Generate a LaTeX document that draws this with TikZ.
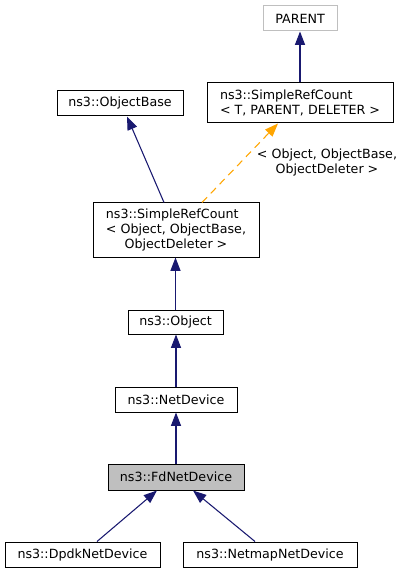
\documentclass[tikz,border=0pt]{standalone}
\usepackage{fontspec}
\setmainfont{DejaVu Sans}
\usepackage{calc}
\usetikzlibrary{arrows.meta,calc}
\definecolor{edgeblue}{HTML}{191970}
\definecolor{orangeedge}{HTML}{FFA500}
\tikzset{
  cls/.style={draw=black, line width=0.75pt, rectangle, inner sep=0pt, align=center,
    font=\fontsize{9.5pt}{11.25pt}\selectfont},
  ghost/.style={cls, draw={rgb,255:red,191;green,191;blue,191}},
  inherit/.style={draw=edgeblue, line width=0.8pt, -{Triangle[length=10pt,width=7.5pt]}},
  tmpl/.style={draw=orangeedge, line width=0.8pt, dash pattern=on 5.5pt off 4pt, -{Triangle[length=10pt,width=7.5pt,fill=orangeedge]}},
  lbl/.style={align=center, inner sep=0pt, font=\fontsize{9.5pt}{11.25pt}\selectfont}
}
\begin{document}
\begin{tikzpicture}[x=0.75pt, y=-0.75pt]
\useasboundingbox (0,0) rectangle (405,573);
\node[ghost, minimum width=74*0.75pt, minimum height=25*0.75pt] (parent) at (300,18.5) {PARENT};
\node[cls, minimum width=186*0.75pt, minimum height=40*0.75pt] (srct) at (300,103)
  {\makebox[\widthof{< T, PARENT, DELETER >}][l]{ns3::SimpleRefCount}\\< T, PARENT, DELETER >};
\node[cls, minimum width=126*0.75pt, minimum height=25*0.75pt] (objbase) at (120,103.5) {ns3::ObjectBase};
\node[cls, minimum width=166*0.75pt, minimum height=54*0.75pt] (src) at (176,230)
  {\makebox[\widthof{< Object, ObjectBase,}][l]{ns3::SimpleRefCount}\\< Object, ObjectBase,\\ObjectDeleter >};
\node[cls, minimum width=95*0.75pt, minimum height=24*0.75pt] (object) at (175.5,322) {ns3::Object};
\node[cls, minimum width=122*0.75pt, minimum height=25*0.75pt] (netdev) at (176,399.5) {ns3::NetDevice};
\node[cls, fill={rgb,255:red,191;green,191;blue,191}, minimum width=136*0.75pt, minimum height=26*0.75pt] (fd) at (176,477) {ns3::FdNetDevice};
\node[cls, minimum width=155*0.75pt, minimum height=25*0.75pt] (dpdk) at (82.5,554.5) {ns3::DpdkNetDevice};
\node[cls, minimum width=174*0.75pt, minimum height=25*0.75pt] (netmap) at (270,554.5) {ns3::NetmapNetDevice};

\draw[inherit] (srct.north) -- (parent.south);
\draw[inherit] ($(src.north)+(-12,0)$) -- ($(objbase.south)+(7,0)$);
\draw[tmpl] ($(src.north)+(26,0)$) -- ($(srct.south)+(-22,0)$);
\node[lbl] (tlabel) at (327,163) {< Object, ObjectBase,\\ObjectDeleter >};
\draw[inherit] (object.north) -- (src.south -| object.north);
\draw[inherit] (netdev.north) -- (object.south -| netdev.north);
\draw[inherit] (fd.north) -- (netdev.south -| fd.north);
\draw[inherit] ($(dpdk.north)+(14.5,0)$) -- ($(fd.south)+(-19,0)$);
\draw[inherit] ($(netmap.north)+(-15,0)$) -- ($(fd.south)+(17,0)$);
\end{tikzpicture}
\end{document}
